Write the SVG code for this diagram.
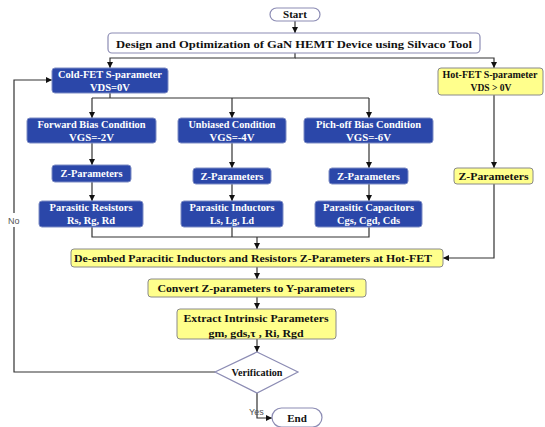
<svg xmlns="http://www.w3.org/2000/svg" width="545" height="427" viewBox="0 0 545 427">
<defs>
<marker id="ah" viewBox="0 0 10 10" refX="10" refY="5" markerWidth="6" markerHeight="6" markerUnits="userSpaceOnUse" orient="auto">
<path d="M0,0 L10,5 L0,10 z" fill="#111"/>
</marker>
<style>
.w{fill:#fff;stroke:#8c8cb4;stroke-width:1.2}
.b{fill:#2b47a9;stroke:#7d8cc4;stroke-width:1}
.y{fill:#ffff8c;stroke:#8a8a8a;stroke-width:1}
.tw{font-family:"Liberation Serif",serif;font-weight:bold;fill:#fff;font-size:10px;text-anchor:middle}
.tk{font-family:"Liberation Serif",serif;font-weight:bold;fill:#111;font-size:11px;text-anchor:middle}
.ln{fill:none;stroke:#333;stroke-width:1.2}
.lbl{font-family:"Liberation Sans",sans-serif;fill:#555;font-size:9px}
</style>
</defs>
<g id="connectors">
<path class="ln" d="M295,21 V33" marker-end="url(#ah)"/>
<path class="ln" d="M295,53 V58 H110 V68" marker-end="url(#ah)"/>
<path class="ln" d="M295,58 H494 V68" marker-end="url(#ah)"/>
<path class="ln" d="M110,93 V98"/>
<path class="ln" d="M92,98 H369"/>
<path class="ln" d="M92,98 V118" marker-end="url(#ah)"/>
<path class="ln" d="M232,98 V118" marker-end="url(#ah)"/>
<path class="ln" d="M369,98 V118" marker-end="url(#ah)"/>
<path class="ln" d="M92,143 V165" marker-end="url(#ah)"/>
<path class="ln" d="M92,182 V201" marker-end="url(#ah)"/>
<path class="ln" d="M232,143 V168" marker-end="url(#ah)"/>
<path class="ln" d="M232,184 V201" marker-end="url(#ah)"/>
<path class="ln" d="M369,143 V168" marker-end="url(#ah)"/>
<path class="ln" d="M369,184 V201" marker-end="url(#ah)"/>
<path class="ln" d="M92,227 V237 H369 V227"/>
<path class="ln" d="M232,227 V237"/>
<path class="ln" d="M257,237 V249" marker-end="url(#ah)"/>
<path class="ln" d="M494,95 V168" marker-end="url(#ah)"/>
<path class="ln" d="M494,184 V258 H443" marker-end="url(#ah)"/>
<path class="ln" d="M257,267 V279" marker-end="url(#ah)"/>
<path class="ln" d="M257,297 V309" marker-end="url(#ah)"/>
<path class="ln" d="M257,339 V352" marker-end="url(#ah)"/>
<path class="ln" d="M215,372 H14 V80 H52" marker-end="url(#ah)"/>
<path class="ln" d="M257,393 V418 H272" marker-end="url(#ah)"/>
<rect x="6" y="213" width="16" height="14" fill="#fff"/>
<text class="lbl" x="8" y="224">No</text>
<text class="lbl" x="249" y="415" font-size="7">Yes</text>
</g>
<g id="start"><rect class="w" x="270" y="8" width="50" height="13" rx="6.5"/><text class="tk" x="295" y="18" font-size="12">Start</text></g>
<g id="design"><rect class="w" x="108" y="33" width="372" height="20" rx="4"/><text class="tk" x="294" y="47.5" font-size="13" textLength="356" lengthAdjust="spacingAndGlyphs">Design and Optimization of GaN HEMT Device using Silvaco Tool</text></g>
<g id="cold"><rect class="b" x="52" y="68" width="116" height="25" rx="3"/><text class="tw" x="110" y="78" textLength="104" lengthAdjust="spacingAndGlyphs">Cold-FET S-parameter</text><text class="tw" x="110" y="91" textLength="40" lengthAdjust="spacingAndGlyphs">VDS=0V</text></g>
<g id="hot"><rect class="y" x="438" y="68" width="105" height="27" rx="3"/><text class="tk" x="490" y="78" font-size="9" textLength="95" lengthAdjust="spacingAndGlyphs">Hot-FET S-parameter</text><text class="tk" x="491" y="91" font-size="9.5" textLength="41" lengthAdjust="spacingAndGlyphs">VDS &gt; 0V</text></g>
<g id="forward"><rect class="b" x="27" y="118" width="129" height="25" rx="3"/><text class="tw" x="91.5" y="128" textLength="108" lengthAdjust="spacingAndGlyphs">Forward Bias Condition</text><text class="tw" x="91.5" y="141" textLength="45" lengthAdjust="spacingAndGlyphs">VGS=-2V</text></g>
<g id="unbiased"><rect class="b" x="178" y="118" width="108" height="25" rx="3"/><text class="tw" x="232" y="128" textLength="87" lengthAdjust="spacingAndGlyphs">Unbiased Condition</text><text class="tw" x="232" y="141" textLength="45" lengthAdjust="spacingAndGlyphs">VGS=-4V</text></g>
<g id="pinchoff"><rect class="b" x="304" y="118" width="129" height="25" rx="3"/><text class="tw" x="368.5" y="128" textLength="105" lengthAdjust="spacingAndGlyphs">Pich-off Bias Condition</text><text class="tw" x="368.5" y="141" textLength="45" lengthAdjust="spacingAndGlyphs">VGS=-6V</text></g>
<g id="z1"><rect class="b" x="52" y="165" width="79" height="17" rx="3"/><text class="tw" x="91.5" y="177" textLength="62" lengthAdjust="spacingAndGlyphs">Z-Parameters</text></g>
<g id="z2"><rect class="b" x="193" y="168" width="78" height="16" rx="3"/><text class="tw" x="232" y="180" textLength="63" lengthAdjust="spacingAndGlyphs">Z-Parameters</text></g>
<g id="z3"><rect class="b" x="329" y="168" width="79" height="16" rx="3"/><text class="tw" x="368.5" y="180" textLength="63" lengthAdjust="spacingAndGlyphs">Z-Parameters</text></g>
<g id="z4"><rect class="y" x="454" y="168" width="79" height="16" rx="3"/><text class="tk" x="493.5" y="180" font-size="10" textLength="70" lengthAdjust="spacingAndGlyphs">Z-Parameters</text></g>
<g id="resistors"><rect class="b" x="39" y="201" width="104" height="26" rx="3"/><text class="tw" x="91" y="211" textLength="83" lengthAdjust="spacingAndGlyphs">Parasitic Resistors</text><text class="tw" x="91" y="224" textLength="48" lengthAdjust="spacingAndGlyphs">Rs, Rg, Rd</text></g>
<g id="inductors"><rect class="b" x="181" y="201" width="102" height="26" rx="3"/><text class="tw" x="232" y="211" textLength="85" lengthAdjust="spacingAndGlyphs">Parasitic Inductors</text><text class="tw" x="232" y="224" textLength="44" lengthAdjust="spacingAndGlyphs">Ls, Lg, Ld</text></g>
<g id="capacitors"><rect class="b" x="315" y="201" width="107" height="26" rx="3"/><text class="tw" x="368.5" y="211" textLength="91" lengthAdjust="spacingAndGlyphs">Parasitic Capacitors</text><text class="tw" x="368.5" y="224" textLength="63" lengthAdjust="spacingAndGlyphs">Cgs, Cgd, Cds</text></g>
<g id="deembed"><rect class="y" x="71" y="249" width="372" height="18" rx="3"/><text class="tk" x="253" y="262" textLength="358" lengthAdjust="spacingAndGlyphs">De-embed Paracitic Inductors and Resistors Z-Parameters at Hot-FET</text></g>
<g id="convert"><rect class="y" x="148" y="279" width="218" height="18" rx="3"/><text class="tk" x="256" y="292" textLength="197" lengthAdjust="spacingAndGlyphs">Convert Z-parameters to Y-parameters</text></g>
<g id="extract"><rect class="y" x="177" y="309" width="159" height="30" rx="3"/><text class="tk" x="256" y="322" textLength="145" lengthAdjust="spacingAndGlyphs">Extract Intrinsic Parameters</text><text class="tk" x="256" y="337" textLength="95" lengthAdjust="spacingAndGlyphs">gm, gds,τ , Ri, Rgd</text></g>
<g id="verification"><path class="w" d="M257,352 L298,372 L257,393 L215,372 Z"/><text class="tk" x="257" y="376" font-size="10" textLength="51" lengthAdjust="spacingAndGlyphs">Verification</text></g>
<g id="end"><rect class="w" x="272" y="408" width="50" height="19" rx="9.5"/><text class="tk" x="297" y="421.5" font-size="11">End</text></g>
</svg>
